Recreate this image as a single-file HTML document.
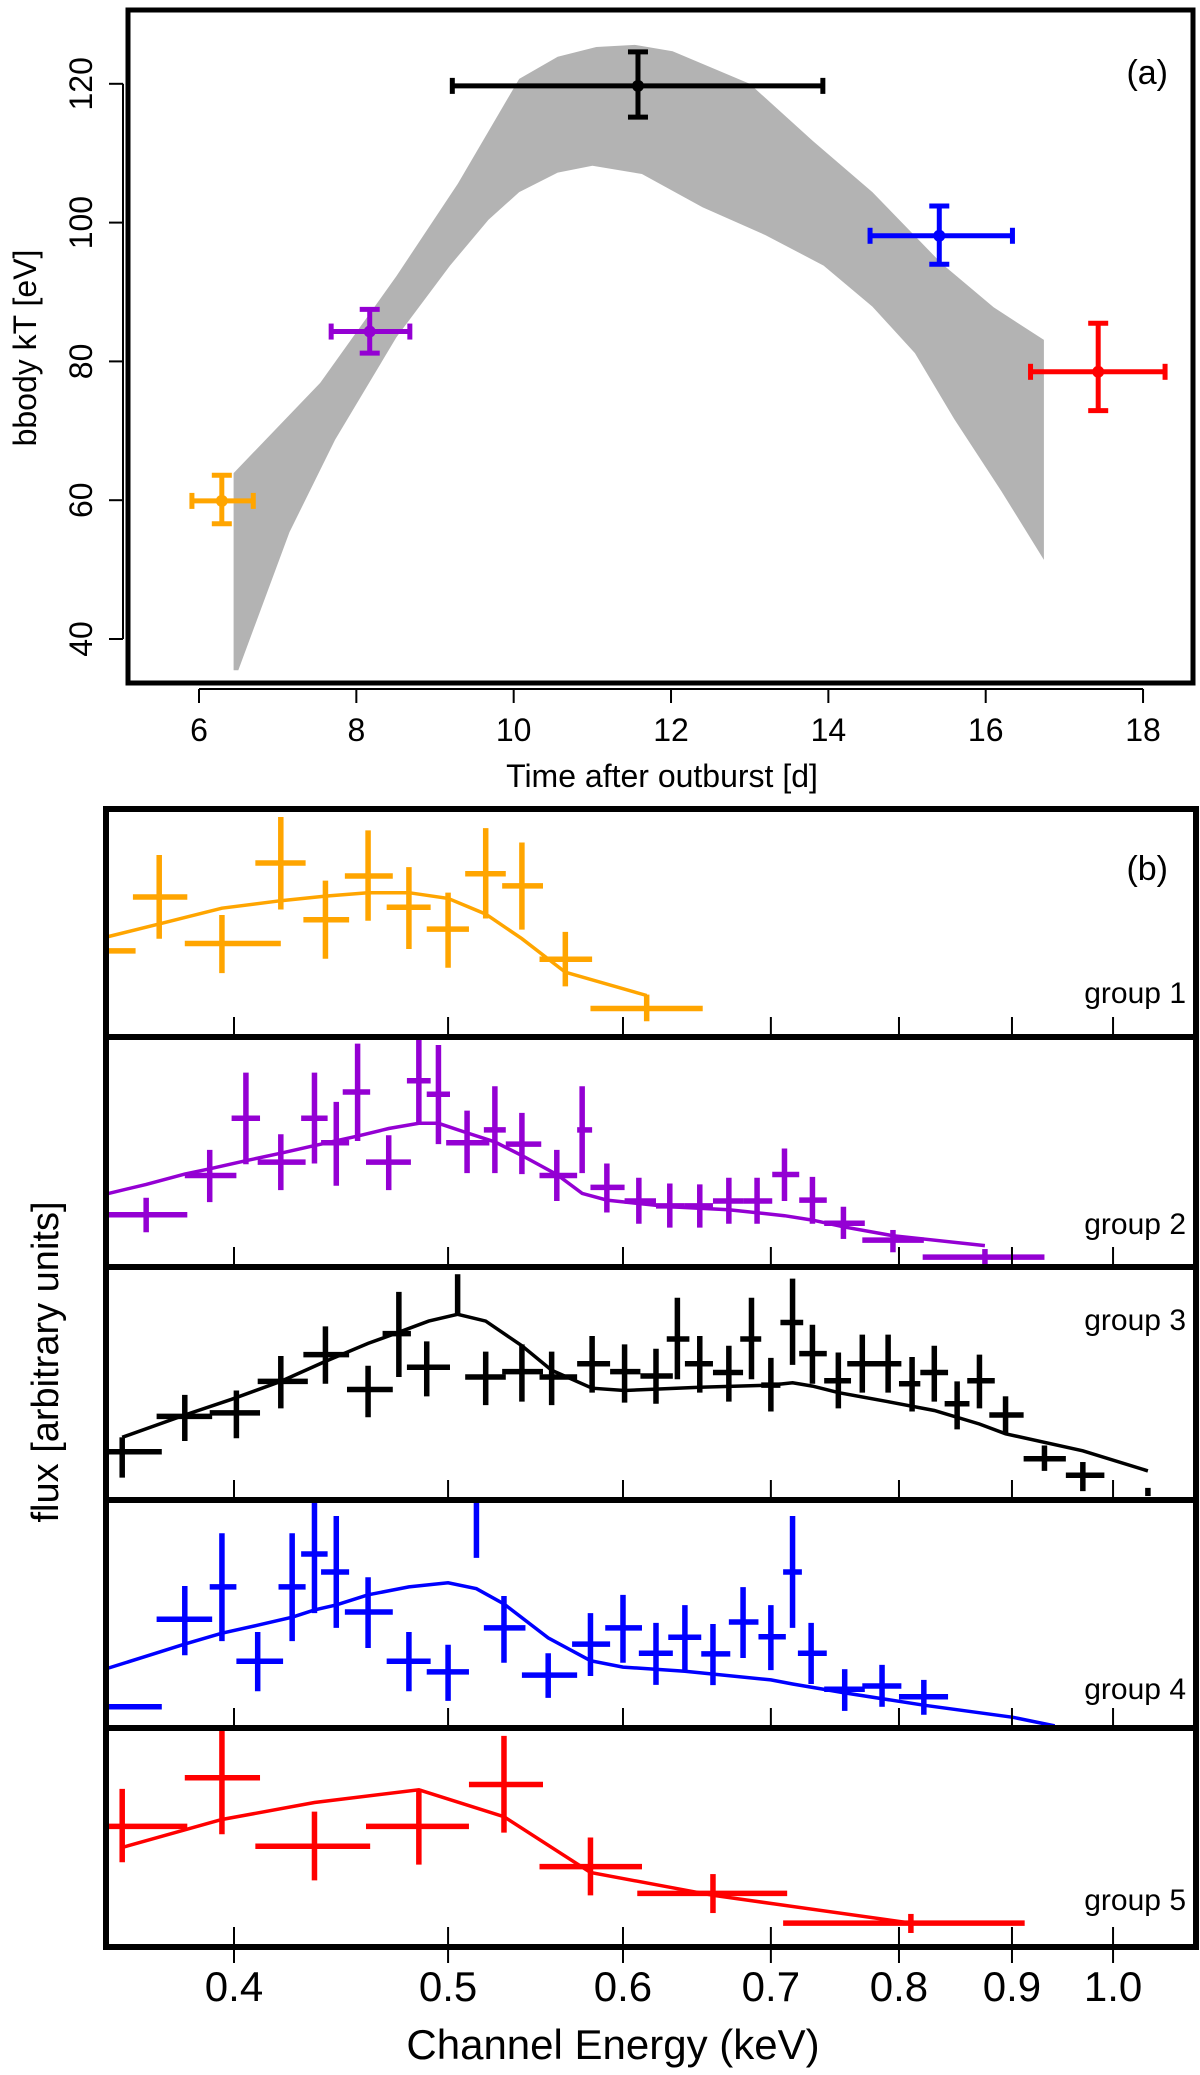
<!DOCTYPE html>
<html><head><meta charset="utf-8"><style>
html,body{margin:0;padding:0;background:#fff;}
svg{display:block;font-family:"Liberation Sans",sans-serif;}
</style></head><body>
<svg id="chart" width="1200" height="2075" viewBox="0 0 1200 2075" xmlns="http://www.w3.org/2000/svg">
<defs id="defs"></defs>
<g id="panelA"></g>
<g id="panelB"></g>
</svg>
<script>
// ---------- Panel (a) data ----------
const bandTime = [6.44,7.54,8.51,9.29,10.07,10.56,11.05,11.54,12.02,13.0,13.8,14.56,15.44,16.1,16.74];
const bandUpper = [63.9,76.9,92.3,105.6,120.7,123.9,125.3,125.6,124.7,120,111.8,104.4,94.1,87.8,83.1];
const bandLowTime = [16.74,16.2,15.6,15.1,14.56,13.94,13.2,12.4,11.63,11.0,10.56,10.07,9.68,9.19,8.51,7.73,7.15,6.5,6.44];
const bandLower = [51.4,61.3,71.7,81.2,87.9,93.8,98.2,102.2,107,108.2,107.2,104.4,100.4,93.8,83.5,68.7,55.4,35.5,35.5];
const ptTime = [6.29,8.17,11.58,15.41,17.43];
const ptTimeLo = [5.91,7.68,9.22,14.53,16.57];
const ptTimeHi = [6.69,8.68,13.93,16.34,18.28];
const ptKT = [59.9,84.3,119.7,98.1,78.5];
const ptKTLo = [56.6,81.2,115.2,94.0,72.9];
const ptKTHi = [63.6,87.5,124.6,102.4,85.5];
const ptColors = ["#FFA500","#9400D3","#000000","#0000FF","#FF0000"];
const xTicksA = [6,8,10,12,14,16,18];
const yTicksA = [40,60,80,100,120];

// ---------- Panel (b) data: [energy, eLo, eHi, flux, fluxLo, fluxHi] ----------
const g1 = [[0.345,0.335,0.361,37.8,37.8,37.8],[0.370,0.360,0.381,61.4,43.1,79.8],[0.395,0.380,0.420,41.0,28.0,53.5],[0.420,0.409,0.431,76.3,55.9,96.5],[0.440,0.430,0.451,51.4,34.3,68.6],[0.460,0.449,0.472,70.6,51.0,90.6],[0.480,0.469,0.491,56.9,38.6,74.5],[0.500,0.489,0.511,47.3,30.4,63.3],[0.520,0.509,0.531,71.6,52.0,91.6],[0.540,0.529,0.552,66.3,47.1,85.3],[0.565,0.550,0.581,34.1,22.2,46.1],[0.615,0.580,0.652,12.5,6.9,18.6]];
const m1E = [0.351,0.370,0.395,0.420,0.440,0.460,0.480,0.500,0.520,0.540,0.565,0.615];
const m1F = [44.1,49.6,56.5,59.8,61.8,63.3,63.3,60.8,53.9,43.1,28.4,18.2];
const g2 = [[0.365,0.351,0.381,22.7,15.1,30.1],[0.390,0.380,0.401,39.8,28.2,50.9],[0.405,0.399,0.411,64.7,44.7,84.5],[0.420,0.410,0.431,45.6,33.4,57.7],[0.435,0.429,0.441,64.7,45.0,84.5],[0.445,0.438,0.451,54.0,35.3,71.8],[0.455,0.448,0.461,76.1,54.8,97.1],[0.470,0.459,0.481,45.6,33.4,57.3],[0.485,0.479,0.491,81.0,62.1,99],[0.495,0.489,0.501,75.1,53.4,96.5],[0.510,0.499,0.522,54.0,40.8,68.0],[0.525,0.519,0.531,59.6,40.8,78.6],[0.540,0.531,0.551,53.4,40.4,67.0],[0.560,0.550,0.572,39.8,28.7,50.9],[0.575,0.572,0.581,59.6,40.8,78.6],[0.590,0.580,0.601,34.6,23.7,45.0],[0.610,0.601,0.621,28.7,18.8,38.8],[0.630,0.621,0.640,26.6,17.1,36.3],[0.650,0.640,0.659,26.6,17.1,35.9],[0.670,0.659,0.680,28.7,18.8,38.8],[0.690,0.680,0.701,28.7,18.8,38.8],[0.710,0.701,0.721,40.2,28.7,51.5],[0.731,0.721,0.742,29.1,18.8,39.2],[0.755,0.740,0.772,19.0,12.2,26.2],[0.795,0.770,0.821,11.7,6.4,16.1],[0.875,0.820,0.931,4.3,1.0,7.8]];
const m2E = [0.351,0.365,0.380,0.390,0.405,0.420,0.435,0.455,0.470,0.485,0.495,0.510,0.525,0.540,0.560,0.575,0.590,0.610,0.630,0.670,0.710,0.731,0.755,0.795,0.875];
const m2F = [32.0,35.9,40.4,42.7,46.2,49.5,52.8,56.9,60.2,62.5,62.5,58.3,54.4,48.5,40.2,32.0,29.1,27.6,26.2,24.9,22.3,20.4,17.5,13.6,9.3];
const g3 = [[0.356,0.351,0.371,20.7,9.6,26.9],[0.380,0.369,0.391,35.9,25.3,45.1],[0.401,0.390,0.411,37.4,26.5,47.0],[0.420,0.410,0.432,50.9,39.3,61.8],[0.440,0.430,0.451,62.4,49.9,74.5],[0.460,0.450,0.472,47.4,35.5,57.6],[0.475,0.467,0.481,71.4,52.8,89.3],[0.489,0.479,0.501,57.0,44.5,68.1],[0.505,0.505,0.505,79.7,79.7,96.9],[0.520,0.509,0.531,52.8,40.7,63.7],[0.540,0.529,0.552,55.1,42.2,66.8],[0.557,0.550,0.572,52.8,40.7,63.7],[0.581,0.572,0.592,58.5,46.1,70.4],[0.601,0.592,0.611,55.1,41.8,66.8],[0.621,0.611,0.632,53.2,41.3,64.9],[0.635,0.628,0.643,69.1,51.8,86.8],[0.650,0.640,0.659,58.5,46.1,70.4],[0.670,0.659,0.680,54.7,42.2,66.2],[0.686,0.678,0.693,69.1,51.8,86.8],[0.700,0.693,0.707,49.3,38.0,61.0],[0.716,0.707,0.724,76.2,58.0,95.0],[0.731,0.721,0.742,62.8,49.9,75.2],[0.751,0.740,0.761,51.2,39.3,63.3],[0.770,0.758,0.783,58.5,46.1,71.0],[0.791,0.780,0.802,58.5,46.1,71.0],[0.811,0.800,0.818,49.9,38.0,61.4],[0.830,0.818,0.842,54.7,42.2,66.2],[0.850,0.839,0.861,41.3,30.3,50.9],[0.870,0.859,0.884,51.2,39.3,62.4],[0.894,0.879,0.911,36.5,28.4,44.5],[0.931,0.911,0.952,17.7,12.5,23.4],[0.969,0.952,0.991,10.6,3.8,16.3],[1.037,1.037,1.037,3.5,1.7,5.2]];
const m3E = [0.356,0.380,0.399,0.420,0.440,0.460,0.475,0.490,0.505,0.520,0.540,0.557,0.581,0.601,0.621,0.650,0.700,0.716,0.731,0.751,0.791,0.830,0.870,0.894,0.969,1.037];
const m3F = [26.9,36.5,43.2,50.9,59.5,67.2,72.0,76.8,79.7,76.8,66.2,55.7,48.0,47.0,47.6,48.4,49.3,50.3,48.9,46.1,42.2,38.4,32.6,28.4,21.1,12.5];
const g4 = [[0.355,0.340,0.371,9.3,9.3,9.3],[0.380,0.369,0.391,47.7,31.9,62.3],[0.395,0.390,0.401,61.9,38.1,85.4],[0.410,0.401,0.421,29.3,16.1,42.1],[0.425,0.419,0.431,61.9,38.1,85.4],[0.435,0.429,0.441,76.3,50.4,100.9],[0.445,0.438,0.451,68.4,43.9,93.0],[0.460,0.449,0.472,50.9,35.1,66.1],[0.480,0.469,0.491,29.3,16.1,42.1],[0.500,0.489,0.511,24.6,11.9,36.5],[0.515,0.515,0.515,87.7,74.6,100.9],[0.530,0.519,0.542,43.9,28.6,57.9],[0.555,0.540,0.572,23.2,13.2,32.8],[0.580,0.569,0.592,36.8,22.8,50.4],[0.600,0.589,0.612,43.9,28.6,58.4],[0.621,0.610,0.632,32.8,18.9,46.1],[0.640,0.629,0.651,39.8,25.1,53.9],[0.659,0.651,0.671,32.5,18.8,45.6],[0.680,0.670,0.691,46.5,30.7,61.8],[0.700,0.691,0.711,40.0,25.4,53.9],[0.716,0.709,0.723,68.4,43.9,93.0],[0.730,0.720,0.742,32.8,19.3,46.1],[0.756,0.740,0.772,17.0,7.5,25.8],[0.786,0.770,0.802,18.4,9.3,27.7],[0.821,0.800,0.842,13.7,5.8,21.1]];
const m4E = [0.351,0.380,0.395,0.410,0.425,0.435,0.445,0.460,0.480,0.500,0.515,0.530,0.555,0.580,0.600,0.640,0.700,0.716,0.756,0.821,0.901,0.941];
const m4F = [26.3,36.8,41.6,45.1,48.6,51.8,54.0,58.4,61.9,63.7,61.1,54.4,39.5,29.5,26.7,24.9,21.1,19.3,15.4,10.0,4.7,0.9];
const g5 = [[0.356,0.351,0.381,55.1,38.7,72.2],[0.395,0.380,0.411,77.3,51.5,99.5],[0.435,0.409,0.461,46.0,30.4,61.8],[0.485,0.459,0.511,55.1,37.6,72.2],[0.530,0.511,0.552,74.2,52.2,96.4],[0.580,0.550,0.612,36.7,23.6,50.0],[0.659,0.609,0.712,24.5,15.5,33.3],[0.810,0.709,0.912,10.9,6.4,15.1]];
const m5E = [0.356,0.395,0.435,0.485,0.530,0.580,0.659,0.810];
const m5F = [45.5,58.2,66.0,71.8,59.5,34.0,23.6,10.9];
const xTicksB = [0.4,0.5,0.6,0.7,0.8,0.9,1.0];
const xTickLabelsB = ["0.4","0.5","0.6","0.7","0.8","0.9","1.0"];
const groupNames = ["group 1","group 2","group 3","group 4","group 5"];

// ---------- helpers ----------
const NS = "http://www.w3.org/2000/svg";
function mk(tag, attrs, parent){const e=document.createElementNS(NS,tag);for(const k in attrs)e.setAttribute(k,attrs[k]);parent.appendChild(e);return e;}

// ---------- Panel (a) ----------
const A = document.getElementById('panelA');
const xA = t => 199 + (t-6)*78.67;
const yA = v => 639 - (v-40)*6.94;
let d = "";
bandTime.forEach((t,i)=>{d += (i?"L":"M")+xA(t).toFixed(1)+","+yA(bandUpper[i]).toFixed(1);});
bandLowTime.forEach((t,i)=>{d += "L"+xA(t).toFixed(1)+","+yA(bandLower[i]).toFixed(1);});
const band = mk('path',{d:d+"Z",fill:"#B3B3B3",stroke:"none"},A);



ptTime.forEach((t,i)=>{
  const g = mk('g',{stroke:ptColors[i],"stroke-width":5,fill:ptColors[i]},A);
  
  
  const x=xA(t), y=yA(ptKT[i]), x0=xA(ptTimeLo[i]), x1=xA(ptTimeHi[i]), y0=yA(ptKTLo[i]), y1=yA(ptKTHi[i]);
  mk('line',{x1:x0,y1:y,x2:x1,y2:y},g);
  mk('line',{x1:x,y1:y0,x2:x,y2:y1},g);
  mk('line',{x1:x0,y1:y-8,x2:x0,y2:y+8},g);
  mk('line',{x1:x1,y1:y-8,x2:x1,y2:y+8},g);
  mk('line',{x1:x-10,y1:y0,x2:x+10,y2:y0},g);
  mk('line',{x1:x-10,y1:y1,x2:x+10,y2:y1},g);
  mk('circle',{cx:x,cy:y,r:6,stroke:"none"},g);
});
const frameA = mk('rect',{x:128,y:10,width:1065,height:673,fill:"none",stroke:"#000","stroke-width":5},A);


const xAxA = mk('g',{stroke:"#000","stroke-width":2},A);


mk('line',{x1:xA(6),y1:689,x2:xA(18),y2:689},xAxA);
xTicksA.forEach(t=>{
  mk('line',{x1:xA(t),y1:689,x2:xA(t),y2:703},xAxA);
  const tx = mk('text',{x:xA(t),y:741,"font-size":32,"text-anchor":"middle",stroke:"none",fill:"#000"},xAxA);
  tx.textContent = t;
  
  
});
const yAxA = mk('g',{stroke:"#000","stroke-width":2},A);


mk('line',{x1:123,y1:yA(40),x2:123,y2:yA(120)},yAxA);
yTicksA.forEach(v=>{
  mk('line',{x1:109,y1:yA(v),x2:123,y2:yA(v)},yAxA);
  const tx = mk('text',{x:0,y:0,"font-size":32,"text-anchor":"middle",stroke:"none",fill:"#000",transform:`translate(92,${yA(v)}) rotate(-90)`},yAxA);
  tx.textContent = v;
  
  
});
let t1 = mk('text',{x:0,y:0,"font-size":32,"text-anchor":"middle",transform:"translate(36,348) rotate(-90)"},A);
t1.textContent="bbody kT [eV]";


t1 = mk('text',{x:662,y:787,"font-size":32,"text-anchor":"middle"},A);
t1.textContent="Time after outburst [d]";


t1 = mk('text',{x:1168,y:84,"font-size":34,"text-anchor":"end"},A);
t1.textContent="(a)";



// ---------- Panel (b) ----------
const B = document.getElementById('panelB');
const defs = document.getElementById('defs');
const bounds = [809,1037,1267,1500,1728,1947];
const L = 106, R = 1196;
const xB = e => 234 + 2209*Math.log10(e/0.4);
const groups = [g1,g2,g3,g4,g5];
const modelsE = [m1E,m2E,m3E,m4E,m5E];
const modelsF = [m1F,m2F,m3F,m4F,m5F];
const colsB = ["#FFA500","#9400D3","#000000","#0000FF","#FF0000"];
const labelY = [992,1223,1319,1688,1899];
groups.forEach((grp,gi)=>{
  const top = bounds[gi], bot = bounds[gi+1], h = bot-top;
  const yB = f => bot - f/100*h;
  const cp = mk('clipPath',{id:'cp'+gi},defs);
  mk('rect',{x:L,y:top,width:R-L,height:h},cp);
  const pg = mk('g',{"clip-path":`url(#cp${gi})`},B);
  
  
  const me = modelsE[gi], mf = modelsF[gi];
  const pts = me.map((e,i)=>xB(e).toFixed(1)+","+yB(mf[i]).toFixed(1)).join(" ");
  const ml = mk('polyline',{points:pts,fill:"none",stroke:colsB[gi],"stroke-width":3.5},pg);
  
  
  grp.forEach(p=>{
    const c = mk('g',{stroke:colsB[gi],"stroke-width":5.5},pg);
    
    
    if (p[2]>p[1]) mk('line',{x1:xB(p[1]),y1:yB(p[3]),x2:xB(p[2]),y2:yB(p[3])},c);
    if (p[5]>p[4]) mk('line',{x1:xB(p[0]),y1:yB(p[4]),x2:xB(p[0]),y2:yB(p[5])},c);
  });
  const tk = mk('g',{stroke:"#000","stroke-width":2},B);
  
  
  xTicksB.forEach(e=>{mk('line',{x1:xB(e),y1:bot-20,x2:xB(e),y2:bot+(gi==4?16:0)},tk);});
  const gl = mk('text',{x:1186,y:labelY[gi]+11,"font-size":30,"text-anchor":"end"},B);
  gl.textContent = groupNames[gi];
  
  
});
bounds.slice(1,5).forEach(y=>{
  const dl = mk('line',{x1:L,y1:y,x2:R,y2:y,stroke:"#000","stroke-width":6},B);
  
  
});
const frameB = mk('rect',{x:L,y:809,width:R-L,height:1947-809,fill:"none",stroke:"#000","stroke-width":6},B);


xTicksB.forEach((e,i)=>{
  const tx = mk('text',{x:xB(e),y:2001,"font-size":42,"text-anchor":"middle"},B);
  tx.textContent = xTickLabelsB[i];
  
  
});
t1 = mk('text',{x:613,y:2059,"font-size":42,"text-anchor":"middle"},B);
t1.textContent="Channel Energy (keV)";


t1 = mk('text',{x:0,y:0,"font-size":38,"text-anchor":"middle",transform:"translate(58,1362) rotate(-90)"},B);
t1.textContent="flux [arbitrary units]";


t1 = mk('text',{x:1168,y:880,"font-size":34,"text-anchor":"end"},B);
t1.textContent="(b)";


</script>
</body></html>
